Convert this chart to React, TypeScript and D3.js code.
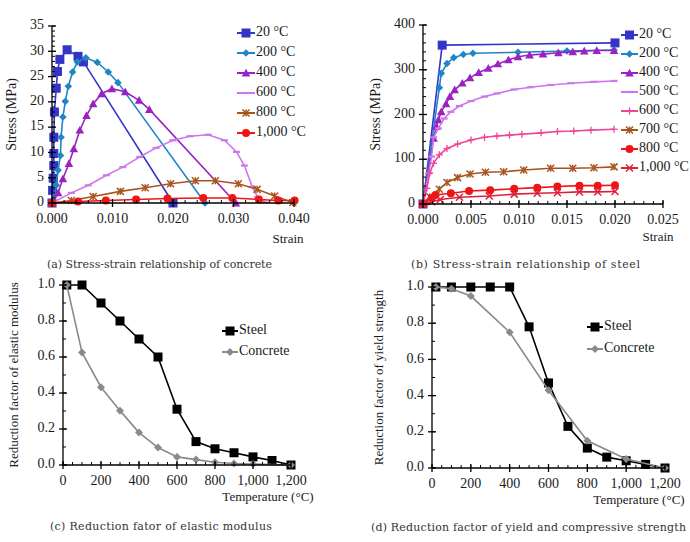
import React from "react";
import * as d3 from "d3";

// (a) concrete stress-strain
const a20Strain = [0, 0.0001, 0.0002, 0.0003, 0.0003, 0.0003, 0.0004, 0.0007, 0.0009, 0.0013, 0.0025, 0.0043, 0.0052, 0.02];
const a20Stress = [0, 2.5, 4.9, 7.4, 9.8, 13, 18, 22.7, 26, 28.4, 30.3, 29, 27.9, 0];
const a200Strain = [0, 0.00044, 0.00072, 0.001, 0.0014, 0.0015, 0.0018, 0.0022, 0.0027, 0.0034, 0.0042, 0.0056, 0.0075, 0.0093, 0.0109, 0.0253];
const a200Stress = [0, 1.5, 3.5, 6.5, 9.4, 13, 17, 20.1, 23.1, 25.9, 27.9, 28.7, 27.8, 25.9, 23.8, 0];
const a400Strain = [0, 0.001, 0.0018, 0.0028, 0.0036, 0.0046, 0.0057, 0.0068, 0.0082, 0.0099, 0.0121, 0.0144, 0.0161, 0.0304];
const a400Stress = [0, 2.0, 4.8, 7.8, 10.7, 14.4, 17.3, 19.6, 21.6, 22.6, 22, 20.3, 18.5, 0];
const a600Strain = [0, 0.0032, 0.006, 0.009, 0.0117, 0.0145, 0.0172, 0.02, 0.0228, 0.0258, 0.0285, 0.0305, 0.0318, 0.0331, 0.034, 0.0353];
const a600Stress = [0, 2, 3.5, 5.5, 7.1, 9.1, 10.9, 12.4, 13.2, 13.5, 12.4, 10.1, 7.4, 3.2, 1.2, 0.1];
const a800Strain = [0, 0.0032, 0.0068, 0.0113, 0.0154, 0.0196, 0.0237, 0.027, 0.0308, 0.0339, 0.0368, 0.0398];
const a800Stress = [0, 0.5, 1.3, 2.3, 3.0, 3.8, 4.4, 4.4, 3.8, 2.7, 1.4, 0.1];
const a1000Strain = [0, 0.0043, 0.0089, 0.0139, 0.0191, 0.025, 0.0298, 0.0342, 0.0374, 0.0401];
const a1000Stress = [0, 0.3, 0.5, 0.7, 0.9, 1.0, 1.0, 0.7, 0.5, 0.5];

// (b) steel stress-strain
const b20Strain = [0, 0.002, 0.02];
const b20Stress = [0, 355, 360];
const b200Strain = [0, 0.0017, 0.0019, 0.0025, 0.0032, 0.0042, 0.0052, 0.0099, 0.015, 0.0199];
const b200Stress = [0, 260, 292, 314, 327, 334, 337, 339, 342, 344];
const b400Strain = [0, 0.0011, 0.0014, 0.0016, 0.0019, 0.0024, 0.0028, 0.0033, 0.0041, 0.0049, 0.0058, 0.0068, 0.0078, 0.0089, 0.0099, 0.0111, 0.0125, 0.0141, 0.0156, 0.0168, 0.0181, 0.0199];
const b400Stress = [0, 147, 173, 188, 206, 224, 240, 255, 270, 282, 294, 303, 313, 322, 329, 333, 335, 338, 340, 342, 343, 343];
const b500Strain = [0, 0.0006, 0.0009, 0.0011, 0.0016, 0.0022, 0.0029, 0.0038, 0.005, 0.0064, 0.0077, 0.0095, 0.0112, 0.0133, 0.0154, 0.0178, 0.0199];
const b500Stress = [0, 69, 106, 149, 169, 191, 206, 219, 230, 240, 247, 256, 261, 266, 270, 273, 275];
const b600Strain = [0, 0.0004, 0.0007, 0.0011, 0.0017, 0.0025, 0.0036, 0.005, 0.0064, 0.0077, 0.009, 0.0103, 0.0123, 0.014, 0.0157, 0.0175, 0.0199];
const b600Stress = [0, 35, 69, 91, 110, 124, 134, 143, 149, 152, 154, 156, 159, 162, 163, 165, 167];
const b700Strain = [0, 0.0007, 0.0017, 0.0025, 0.0036, 0.0049, 0.0065, 0.0084, 0.0105, 0.0133, 0.0156, 0.0178, 0.0199];
const b700Stress = [0, 16, 33, 48, 59, 67, 71, 72, 76, 80, 80, 81, 83];
const b800Strain = [0, 0.0009, 0.0013, 0.0029, 0.0048, 0.007, 0.0095, 0.0119, 0.014, 0.0163, 0.0182, 0.02];
const b800Stress = [0, 13, 20, 24, 29, 31, 34, 36.5, 39, 41, 41, 42];
const b1000Strain = [0, 0.0009, 0.0018, 0.0038, 0.0069, 0.0095, 0.0119, 0.014, 0.0163, 0.0182, 0.02];
const b1000Stress = [0, 5, 10, 15, 18, 22, 24, 25, 27, 27, 28];

// (c) elastic modulus reduction
const cSteelTemp = [20, 100, 200, 300, 400, 500, 600, 700, 800, 900, 1000, 1100, 1200];
const cSteelFactor = [1, 1, 0.9, 0.8, 0.7, 0.6, 0.31, 0.13, 0.09, 0.068, 0.045, 0.025, 0];
const cConcTemp = [20, 100, 200, 300, 400, 500, 600, 700, 800, 900, 1000, 1200];
const cConcFactor = [1, 0.625, 0.432, 0.302, 0.18, 0.097, 0.045, 0.03, 0.015, 0.008, 0.005, 0];

// (d) strength reduction
const dSteelTemp = [20, 100, 200, 300, 400, 500, 600, 700, 800, 900, 1000, 1100, 1200];
const dSteelFactor = [1, 1, 1, 1, 1, 0.78, 0.47, 0.23, 0.11, 0.06, 0.04, 0.02, 0];
const dConcTemp = [20, 100, 200, 400, 600, 800, 1000, 1200];
const dConcFactor = [1, 0.99, 0.95, 0.75, 0.43, 0.15, 0.05, 0];

type Mk = "square" | "diamond" | "triangle" | "dash" | "plus" | "star" | "circle" | "x";
type Series = { name: string; xs: number[]; ys: number[]; color: string; marker: Mk; size?: number };

const FONT = "Liberation Serif";
const CAP = "DejaVu Serif";

function Marker({ type, x, y, color, size = 4 }: { type: Mk; x: number; y: number; color: string; size?: number }) {
  const s = size;
  switch (type) {
    case "square":
      return <rect x={x - s} y={y - s} width={s * 2} height={s * 2} fill={color} />;
    case "diamond":
      return <path d={`M${x},${y - s}L${x + s},${y}L${x},${y + s}L${x - s},${y}Z`} fill={color} />;
    case "triangle":
      return <path d={`M${x},${y - s}L${x + s},${y + s * 0.8}L${x - s},${y + s * 0.8}Z`} fill={color} />;
    case "dash":
      return <line x1={x - s} x2={x + s} y1={y} y2={y} stroke={color} strokeWidth={2.2} />;
    case "plus":
      return (
        <g stroke={color} strokeWidth={1.3}>
          <line x1={x - s} x2={x + s} y1={y} y2={y} />
          <line x1={x} x2={x} y1={y - s} y2={y + s} />
        </g>
      );
    case "star":
      return (
        <g stroke={color} strokeWidth={1.5}>
          <line x1={x - s} x2={x + s} y1={y - s} y2={y + s} />
          <line x1={x - s} x2={x + s} y1={y + s} y2={y - s} />
          <line x1={x} x2={x} y1={y - s} y2={y + s} />
        </g>
      );
    case "x":
      return (
        <g stroke={color} strokeWidth={1.5}>
          <line x1={x - s} x2={x + s} y1={y - s} y2={y + s} />
          <line x1={x - s} x2={x + s} y1={y + s} y2={y - s} />
        </g>
      );
    default:
      return <circle cx={x} cy={y} r={s} fill={color} />;
  }
}

type PanelProps = {
  x: d3.ScaleLinear<number, number>;
  y: d3.ScaleLinear<number, number>;
  xMajor: number[];
  xMinor: number[];
  yMajor: number[];
  yMinor: number[];
  xFmt: (v: number) => string;
  yFmt: (v: number) => string;
  yTitle: string;
  yTitleX: number;
  yTitleSize: number;
  xTitle: string;
  xTitlePos: [number, number];
  series: Series[];
  legendX: number;
  legendY: number;
  legendStep: number;
  legendLen: number;
};

function Panel(p: PanelProps) {
  const [x0, x1] = p.x.range();
  const [y0, y1] = p.y.range();
  const line = (s: Series) =>
    d3.line<number>().x((_, i) => p.x(s.xs[i])).y((v) => p.y(v))(s.ys) ?? "";
  const txt = { fontFamily: FONT, fill: "#1a1a1a" };
  return (
    <g>
      {p.series.map((s) => (
        <g key={s.name}>
          <path d={line(s)} fill="none" stroke={s.color} strokeWidth={1.6} />
          {s.xs.map((v, i) => (
            <Marker key={i} type={s.marker} x={p.x(v)} y={p.y(s.ys[i])} color={s.color} size={s.size} />
          ))}
        </g>
      ))}
      <g stroke="#000" strokeWidth={1.3}>
        <line x1={x0} x2={x1} y1={y0} y2={y0} />
        <line x1={x0} x2={x0} y1={y0} y2={y1} />
        {p.xMinor.map((v) => (
          <line key={"xm" + v} x1={p.x(v)} x2={p.x(v)} y1={y0} y2={y0 - 3} strokeWidth={1} />
        ))}
        {p.xMajor.map((v) => (
          <line key={"xM" + v} x1={p.x(v)} x2={p.x(v)} y1={y0 - 4} y2={y0 + 4} />
        ))}
        {p.yMinor.map((v) => (
          <line key={"ym" + v} x1={x0} x2={x0 + 3} y1={p.y(v)} y2={p.y(v)} strokeWidth={1} />
        ))}
        {p.yMajor.map((v) => (
          <line key={"yM" + v} x1={x0 - 4} x2={x0 + 4} y1={p.y(v)} y2={p.y(v)} />
        ))}
      </g>
      {p.xMajor.map((v) => (
        <text key={"xt" + v} {...txt} fontSize={14} x={p.x(v)} y={y0 + 17} textAnchor="middle" dominantBaseline="middle">
          {p.xFmt(v)}
        </text>
      ))}
      {p.yMajor.map((v) => (
        <text key={"yt" + v} {...txt} fontSize={14} x={x0 - 8} y={p.y(v)} textAnchor="end" dominantBaseline="middle">
          {p.yFmt(v)}
        </text>
      ))}
      <text {...txt} fontSize={13} x={p.xTitlePos[0]} y={p.xTitlePos[1]} textAnchor="middle" dominantBaseline="middle">
        {p.xTitle}
      </text>
      <text
        {...txt}
        fontSize={p.yTitleSize}
        transform={`translate(${p.yTitleX},${(y0 + y1) / 2}) rotate(-90)`}
        textAnchor="middle"
        dominantBaseline="middle"
      >
        {p.yTitle}
      </text>
      {p.series.map((s, i) => {
        const ly = p.legendY + i * p.legendStep;
        return (
          <g key={"lg" + s.name}>
            <line x1={p.legendX} x2={p.legendX + p.legendLen} y1={ly} y2={ly} stroke={s.color} strokeWidth={2} />
            <Marker type={s.marker} x={p.legendX + p.legendLen / 2} y={ly} color={s.color} size={s.size} />
            <text {...txt} fontSize={14} x={p.legendX + p.legendLen + 1} y={ly} dominantBaseline="middle">
              {s.name}
            </text>
          </g>
        );
      })}
    </g>
  );
}

const step = (a: number, b: number, s: number) => d3.range(a, b + s / 2, s).map((v) => +v.toFixed(6));

export default function App() {
  const ax = d3.scaleLinear().domain([0, 0.04]).range([52, 294]);
  const ay = d3.scaleLinear().domain([0, 35]).range([203, 26]);
  const bx = d3.scaleLinear().domain([0, 0.025]).range([423, 663]);
  const by = d3.scaleLinear().domain([0, 400]).range([204, 25]);
  const cx = d3.scaleLinear().domain([0, 1200]).range([63, 291]);
  const cy = d3.scaleLinear().domain([0, 1]).range([465, 285]);
  const dx = d3.scaleLinear().domain([0, 1200]).range([432, 665]);
  const dy = d3.scaleLinear().domain([0, 1]).range([468, 287]);

  const blue = "#3434C8";
  const teal = "#1F86C6";
  const purple = "#9A22C2";
  const lilac = "#CC77EE";
  const pink = "#EE4499";
  const brown = "#A8541E";
  const red = "#EE1515";
  const red2 = "#DD1F3A";

  const aSeries: Series[] = [
    { name: "20 °C", xs: a20Strain, ys: a20Stress, color: blue, marker: "square", size: 4.5 },
    { name: "200 °C", xs: a200Strain, ys: a200Stress, color: teal, marker: "diamond", size: 3.8 },
    { name: "400 °C", xs: a400Strain, ys: a400Stress, color: purple, marker: "triangle", size: 4.3 },
    { name: "600 °C", xs: a600Strain, ys: a600Stress, color: lilac, marker: "dash", size: 3.5 },
    { name: "800 °C", xs: a800Strain, ys: a800Stress, color: brown, marker: "star", size: 3.5 },
    { name: "1,000 °C", xs: a1000Strain, ys: a1000Stress, color: red, marker: "circle", size: 4 },
  ];
  const bSeries: Series[] = [
    { name: "20 °C", xs: b20Strain, ys: b20Stress, color: blue, marker: "square", size: 4.5 },
    { name: "200 °C", xs: b200Strain, ys: b200Stress, color: teal, marker: "diamond", size: 3.8 },
    { name: "400 °C", xs: b400Strain, ys: b400Stress, color: purple, marker: "triangle", size: 4.3 },
    { name: "500 °C", xs: b500Strain, ys: b500Stress, color: lilac, marker: "dash", size: 3.5 },
    { name: "600 °C", xs: b600Strain, ys: b600Stress, color: pink, marker: "plus", size: 3.5 },
    { name: "700 °C", xs: b700Strain, ys: b700Stress, color: brown, marker: "star", size: 3.5 },
    { name: "800 °C", xs: b800Strain, ys: b800Stress, color: red, marker: "circle", size: 4 },
    { name: "1,000 °C", xs: b1000Strain, ys: b1000Stress, color: red2, marker: "x", size: 3.5 },
  ];
  const cSeries: Series[] = [
    { name: "Steel", xs: cSteelTemp, ys: cSteelFactor, color: "#000", marker: "square", size: 4.5 },
    { name: "Concrete", xs: cConcTemp, ys: cConcFactor, color: "#8a8a8a", marker: "diamond", size: 4 },
  ];
  const dSeries: Series[] = [
    { name: "Steel", xs: dSteelTemp, ys: dSteelFactor, color: "#000", marker: "square", size: 4.5 },
    { name: "Concrete", xs: dConcTemp, ys: dConcFactor, color: "#8a8a8a", marker: "diamond", size: 4 },
  ];

  const f3 = d3.format(".3f");
  const f1 = d3.format(".1f");
  const fc = d3.format(",");
  const fi = (v: number) => String(v);

  return (
    <svg width={690} height={542} style={{ position: "absolute", left: 0, top: 0, background: "#fff" }}>
      <rect width={690} height={542} fill="#fff" />
      <Panel
        x={ax} y={ay}
        xMajor={step(0, 0.04, 0.01)} xMinor={step(0, 0.04, 0.002)}
        yMajor={step(0, 35, 5)} yMinor={step(0, 35, 1)}
        xFmt={f3} yFmt={fi}
        yTitle="Stress (MPa)" yTitleX={13} yTitleSize={14}
        xTitle="Strain" xTitlePos={[288, 240]}
        series={aSeries} legendX={237} legendY={33} legendStep={20} legendLen={18}
      />
      <Panel
        x={bx} y={by}
        xMajor={step(0, 0.025, 0.005)} xMinor={step(0, 0.025, 0.001)}
        yMajor={step(0, 400, 100)} yMinor={step(0, 400, 20)}
        xFmt={f3} yFmt={fi}
        yTitle="Stress (MPa)" yTitleX={377} yTitleSize={14}
        xTitle="Strain" xTitlePos={[658, 238]}
        series={bSeries} legendX={621} legendY={35} legendStep={19} legendLen={17}
      />
      <Panel
        x={cx} y={cy}
        xMajor={step(0, 1200, 200)} xMinor={step(0, 1200, 50)}
        yMajor={step(0, 1, 0.2)} yMinor={step(0, 1, 0.1)}
        xFmt={fc} yFmt={f1}
        yTitle="Reduction factor of elastic modulus" yTitleX={15} yTitleSize={13}
        xTitle="Temperature (°C)" xTitlePos={[268, 498]}
        series={cSeries} legendX={222} legendY={331} legendStep={21} legendLen={16}
      />
      <Panel
        x={dx} y={dy}
        xMajor={step(0, 1200, 200)} xMinor={step(0, 1200, 50)}
        yMajor={step(0, 1, 0.2)} yMinor={step(0, 1, 0.1)}
        xFmt={fc} yFmt={f1}
        yTitle="Reduction factor of yield strength" yTitleX={380} yTitleSize={13}
        xTitle="Temperature (°C)" xTitlePos={[639, 501]}
        series={dSeries} legendX={587} legendY={327} legendStep={22} legendLen={16}
      />
      <g fontFamily={CAP} fontSize={11} fill="#333">
        <text x={47} y={265} dominantBaseline="middle" textLength={225} lengthAdjust="spacing">
          (a) Stress-strain relationship of concrete
        </text>
        <text x={411} y={265} dominantBaseline="middle" textLength={229} lengthAdjust="spacing">
          (b) Stress-strain relationship of steel
        </text>
        <text x={50} y={527} dominantBaseline="middle" textLength={222} lengthAdjust="spacing">
          (c) Reduction fator of elastic modulus
        </text>
        <text x={371} y={528} dominantBaseline="middle" textLength={315} lengthAdjust="spacing">
          (d) Reduction factor of yield and compressive strength
        </text>
      </g>
    </svg>
  );
}
